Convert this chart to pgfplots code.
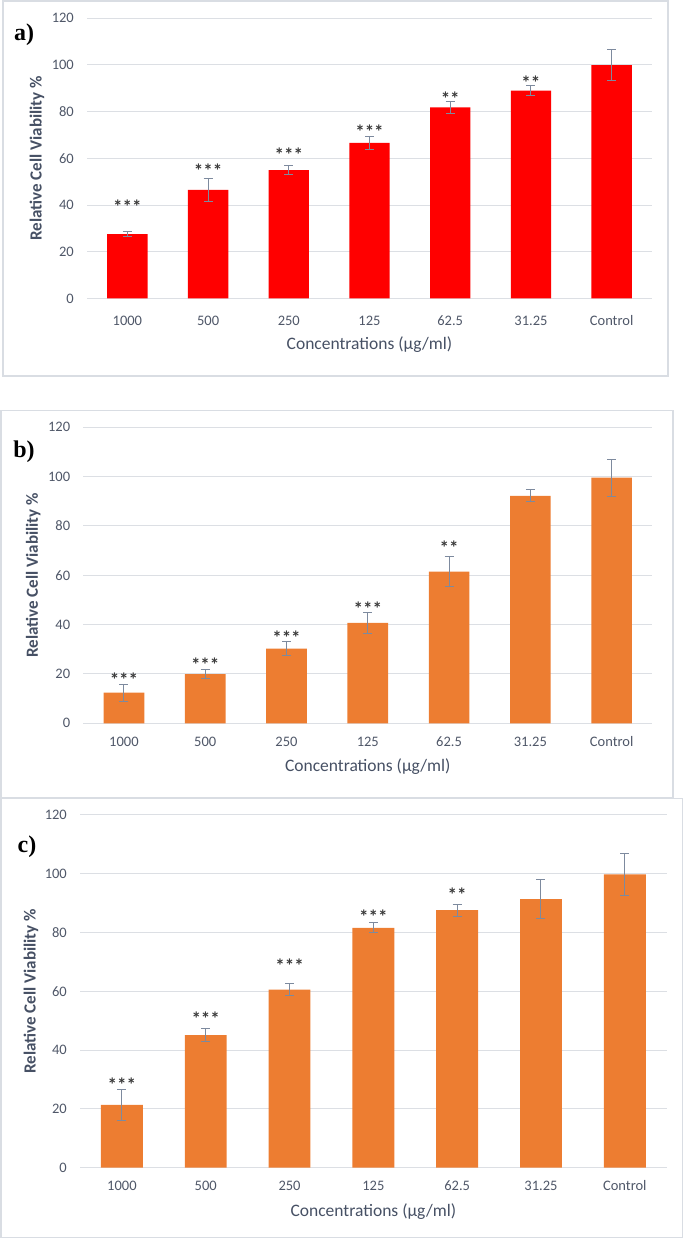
\documentclass[border=0pt]{standalone}
\usepackage{pgfplots}
\pgfplotsset{compat=1.18}
\usepackage{fontspec}
\setmainfont{Carlito}
\newfontfamily\serifb{Liberation Serif}
\definecolor{redbar}{HTML}{FF0000}
\definecolor{orangebar}{HTML}{ED7D31}
\definecolor{errc}{HTML}{7D8A9E}
\definecolor{gridc}{HTML}{DCDFE4}
\definecolor{framec}{HTML}{D9DDE3}
\definecolor{tickc}{HTML}{4F5768}
\definecolor{labc}{HTML}{465064}
\definecolor{starc}{HTML}{3A3A3A}
\tikzset{sig/.style={anchor=north, inner sep=0pt, text=starc, font=\fontsize{19bp}{20bp}\selectfont\bfseries}}
\pgfplotsset{
  panel/.style={
    scale only axis, anchor=south west,
    ybar, bar width=0.5,
    xmin=-0.5, xmax=6.5, ymin=0, ymax=120,
    xtick={0,...,6},
    xticklabels={1000,500,250,125,62.5,31.25,Control},
    ytick={0,20,...,120},
    /pgf/number format/assume math mode=true,
    major tick length=0pt,
    axis line style={draw=none},
    ymajorgrids, grid style={gridc, line width=1bp},
    tick label style={font=\fontsize{14.5bp}{16bp}\selectfont, text=tickc},
    yticklabel style={anchor=east, inner sep=0pt, xshift=-13bp},
    ylabel={Relative Cell Viability \%},
    xlabel={Concentrations (µg/ml)},
    ylabel style={font=\fontsize{17bp}{19bp}\selectfont\bfseries, text=labc, anchor=center},
    xlabel style={font=\fontsize{17.5bp}{19bp}\selectfont, text=labc, anchor=center},
    clip=false,
  },
  errs/.style={error bars/.cd, y dir=both, y explicit,
    error bar style={errc, line width=1bp},
    error mark options={errc, rotate=90, mark size=4.5bp, line width=1bp}},
}
\begin{document}
\begin{tikzpicture}[x=1bp,y=1bp]
\useasboundingbox (0,0) rectangle (684,1240);
% panel frames
\draw[framec, line width=1.2bp] (3,864) rectangle (668,1239);
\draw[framec, line width=1.2bp] (1,442.3) rectangle (673,829.3);
\draw[framec, line width=1.2bp] (1,2.3) rectangle (682.5,441.5);
% ---------- panel a
\begin{axis}[panel, at={(87bp,941.5bp)}, width=565bp, height=280.2bp,
  xticklabel style={anchor=center, yshift=-22bp},
  ylabel style={at={(axis description cs:-0.0885,0.5)}},
  xlabel style={at={(axis description cs:0.5,-0.166)}}]
\addplot[fill=redbar, draw=none, errs] coordinates {
  (0,27.6) +- (0,1.2)
  (1,46.5) +- (0,5.0)
  (2,55.0) +- (0,1.8)
  (3,66.6) +- (0,2.8)
  (4,81.8) +- (0,2.5)
  (5,89.0) +- (0,2.2)
  (6,99.9) +- (0,6.6)
};
\node[sig] at (axis cs:0,42.1) {***};
\node[sig] at (axis cs:1,57.8) {***};
\node[sig] at (axis cs:2,64.5) {***};
\node[sig] at (axis cs:3,74.3) {***};
\node[sig] at (axis cs:4,88.5) {**};
\node[sig] at (axis cs:5,95.3) {**};
\end{axis}
% ---------- panel b
\begin{axis}[panel, at={(83.3bp,516.7bp)}, width=569bp, height=296bp,
  xticklabel style={anchor=center, yshift=-18.4bp},
  ylabel style={at={(axis description cs:-0.0879,0.5)}},
  xlabel style={at={(axis description cs:0.5,-0.1466)}}]
\addplot[fill=orangebar, draw=none, errs] coordinates {
  (0,12.4) +- (0,3.5)
  (1,19.9) +- (0,1.8)
  (2,30.3) +- (0,2.8)
  (3,40.7) +- (0,4.3)
  (4,61.5) +- (0,6.0)
  (5,92.2) +- (0,2.4)
  (6,99.6) +- (0,7.5)
};
\node[sig] at (axis cs:0,20.5) {***};
\node[sig] at (axis cs:1,26.5) {***};
\node[sig] at (axis cs:2,37.4) {***};
\node[sig] at (axis cs:3,49.4) {***};
\node[sig] at (axis cs:4,74.0) {**};
\end{axis}
% ---------- panel c
\begin{axis}[panel, at={(80bp,72.3bp)}, width=586.7bp, height=352.7bp,
  xticklabel style={anchor=center, yshift=-18.3bp},
  ylabel style={at={(axis description cs:-0.0835,0.5)}},
  xlabel style={at={(axis description cs:0.5,-0.1248)}}]
\addplot[fill=orangebar, draw=none, errs] coordinates {
  (0,21.4) +- (0,5.3)
  (1,45.1) +- (0,2.1)
  (2,60.6) +- (0,2.1)
  (3,81.6) +- (0,1.7)
  (4,87.6) +- (0,2.0)
  (5,91.4) +- (0,6.5)
  (6,99.8) +- (0,7.1)
};
\node[sig] at (axis cs:0,30.5) {***};
\node[sig] at (axis cs:1,53.2) {***};
\node[sig] at (axis cs:2,71.2) {***};
\node[sig] at (axis cs:3,87.9) {***};
\node[sig] at (axis cs:4,95.2) {**};
\end{axis}
% panel letters
\node[font=\serifb\bfseries\fontsize{24bp}{26bp}\selectfont] at (24,1205) {a)};
\node[font=\serifb\bfseries\fontsize{24bp}{26bp}\selectfont] at (24,788.5) {b)};
\node[font=\serifb\bfseries\fontsize{24bp}{26bp}\selectfont] at (27,393.5) {c)};
\end{tikzpicture}
\end{document}
